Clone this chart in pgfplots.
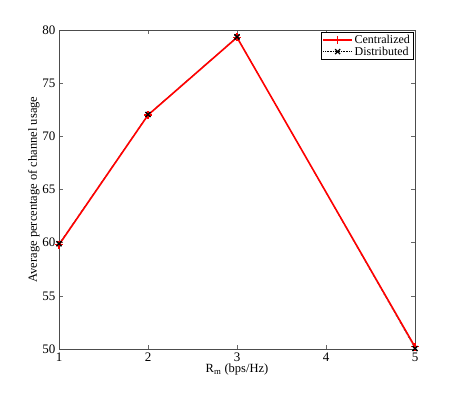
\documentclass[border=0pt]{standalone}
\usepackage{pgfplots}
\pgfplotsset{compat=1.18}
\usepackage{fontspec}
\setmainfont{Liberation Serif}
\begin{document}
\begin{tikzpicture}
\begin{axis}[
  scale only axis,
  width=356pt, height=319pt,
  xmin=1, xmax=5, ymin=50, ymax=80,
  xtick={1,2,3,4,5},
  ytick={50,55,60,65,70,75,80},
  tick align=inside,
  major tick length=4pt,
  tick style={black!60, line width=0.4pt},
  axis line style={black!70, line width=0.6pt},
  xlabel={R\textsubscript{m} (bps/Hz)},
  ylabel={Average percentage of channel usage},
  tick label style={font=\fontsize{13}{15}\selectfont},
  label style={font=\fontsize{12.5}{14}\selectfont},
  xlabel style={yshift=4pt},
  ylabel style={yshift=-4pt},
  /pgf/number format/assume math mode=true,
  legend style={at={(0.995,0.995)}, anchor=north east, font=\fontsize{12}{14}\selectfont,
    draw=black, line width=0.5pt, inner sep=1pt, row sep=-2pt},
  legend image code/.code={\draw[mark repeat=2,mark phase=2] plot coordinates {(0cm,0cm) (0.5cm,0cm) (1cm,0cm)};},
  legend cell align=left,
  reverse legend,
  clip=false,
]
\addplot[black, densely dotted, line width=0.6pt, mark=x, mark size=3.5pt, mark options={solid, line width=1.3pt}]
  coordinates {(1,59.9) (2,72.05) (3,79.35) (5,50.05)};
\addlegendentry{Distributed}
\addplot[red, line width=1.6pt, mark=+, mark size=4pt, mark options={solid, line width=1.2pt}]
  coordinates {(1,59.8) (2,72.0) (3,79.3) (5,50.2)};
\addlegendentry{Centralized}
\addplot[black, only marks, mark=x, mark size=3.5pt, mark options={solid, line width=1.3pt}, forget plot]
  coordinates {(1,59.9) (2,72.05) (3,79.35) (5,50.05)};
\end{axis}
\path (-59pt,-43pt) rectangle (398pt,349pt);
\end{tikzpicture}
\end{document}
